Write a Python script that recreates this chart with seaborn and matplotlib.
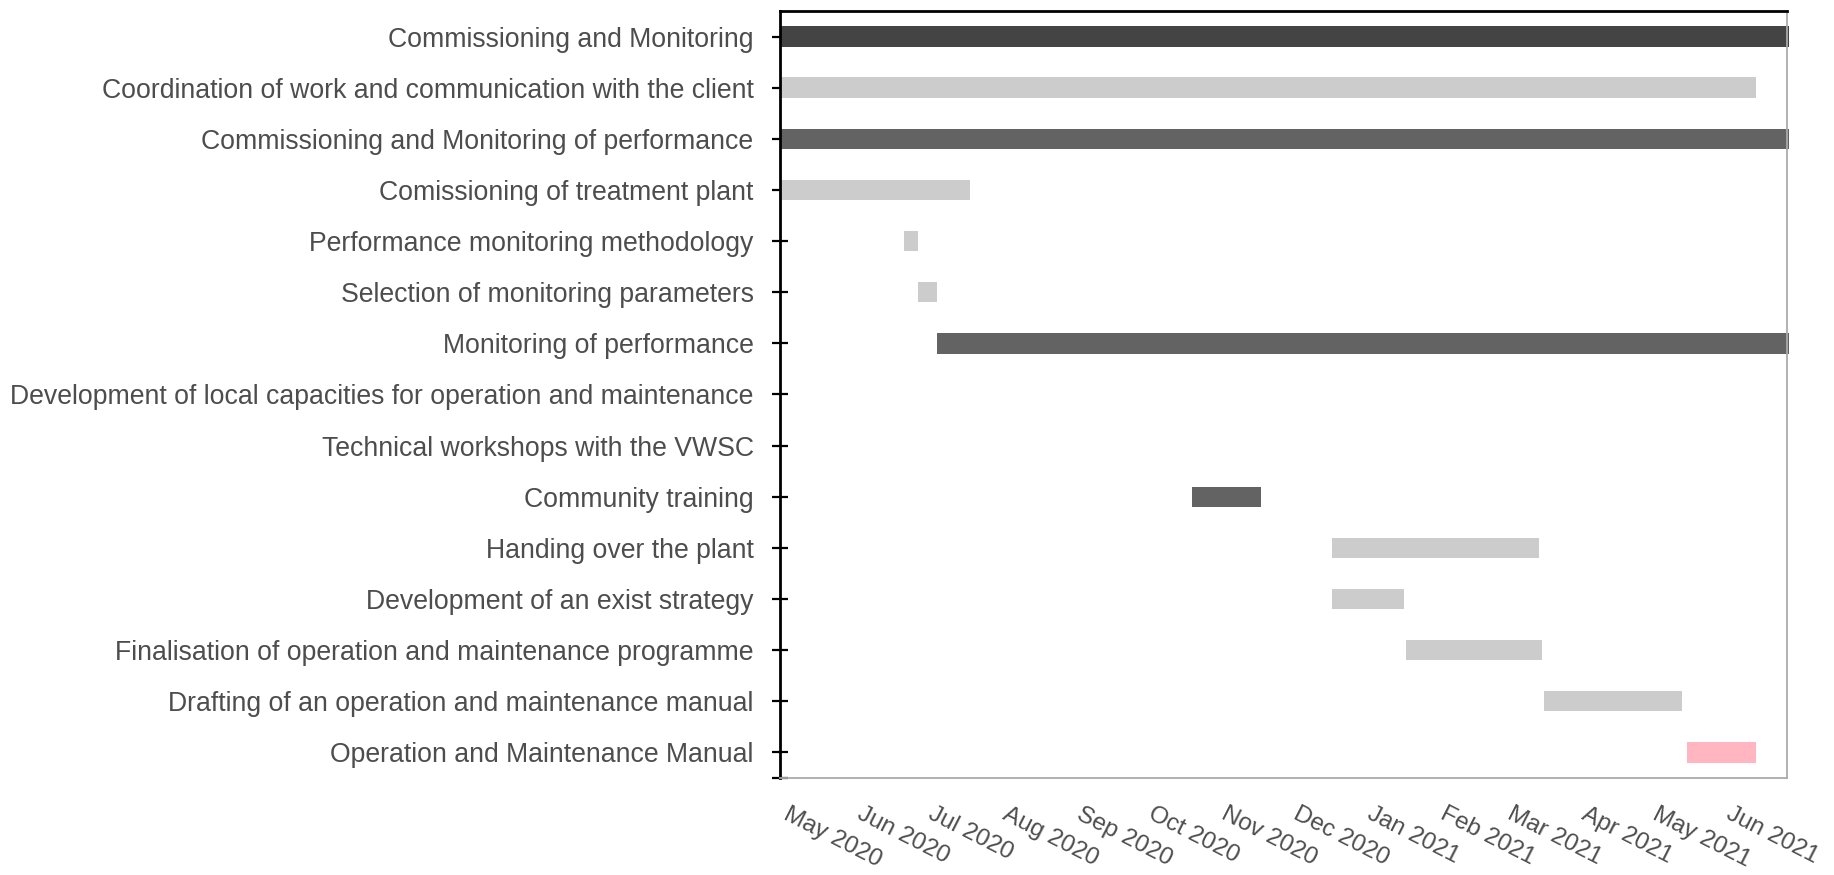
import matplotlib
matplotlib.use("Agg")
import matplotlib.pyplot as plt
import matplotlib.dates as mdates
import pandas as pd
import seaborn as sns

# Project schedule
tasks = [
    "Commissioning and Monitoring",
    "Coordination of work and communication with the client",
    "Commissioning and Monitoring of performance",
    "Comissioning of treatment plant",
    "Performance monitoring methodology",
    "Selection of monitoring parameters",
    "Monitoring of performance",
    "Development of local capacities for operation and maintenance",
    "Technical workshops with the VWSC",
    "Community training",
    "Handing over the plant",
    "Development of an exist strategy",
    "Finalisation of operation and maintenance programme",
    "Drafting of an operation and maintenance manual",
    "Operation and Maintenance Manual",
]
starts = [
    "2020-05-01", "2020-05-01", "2020-05-01", "2020-05-01", "2020-06-22",
    "2020-06-28", "2020-07-06", None, None, "2020-10-21",
    "2020-12-19", "2020-12-19", "2021-01-19", "2021-03-18", "2021-05-17",
]
ends = [
    "2021-06-29", "2021-06-15", "2021-06-29", "2020-07-20", "2020-06-28",
    "2020-07-06", "2021-06-29", None, None, "2020-11-19",
    "2021-03-16", "2021-01-18", "2021-03-17", "2021-05-15", "2021-06-15",
]
shades = [
    "#444444", "#cccccc", "#636363", "#cccccc", "#cccccc",
    "#cccccc", "#636363", "#cccccc", "#cccccc", "#636363",
    "#cccccc", "#cccccc", "#cccccc", "#cccccc", "#ffb6c1",
]
month_ticks = pd.date_range("2020-05-01", "2021-06-01", freq="MS")
x_range = ("2020-05-01", "2021-06-28")

sns.set_theme(style="white")
plt.rcParams["font.family"] = ["Liberation Sans", "DejaVu Sans"]
text_color = "#4d4d4d"

schedule = pd.DataFrame({
    "task": tasks,
    "start": pd.to_datetime(starts),
    "end": pd.to_datetime(ends),
    "color": shades,
})

fig = plt.figure(figsize=(18.34, 8.75), dpi=100)
ax = fig.add_axes([0.4253, 0.1109, 0.5491, 0.8765])

for i, row in schedule.iterrows():
    if pd.isna(row.start):
        continue
    s = mdates.date2num(row.start)
    e = mdates.date2num(row.end)
    ax.barh(i, e - s, left=s, height=0.4, color=row.color,
            linewidth=0, clip_on=False)

ax.set_xlim(mdates.date2num(pd.Timestamp(x_range[0])),
            mdates.date2num(pd.Timestamp(x_range[1])))
ax.set_ylim(len(tasks) - 0.5, -0.5)

ax.set_yticks(range(len(tasks)))
ax.set_yticklabels(tasks, fontsize=19.2, color=text_color)
ax.set_yticks([len(tasks) - 0.5], minor=True)
ax.tick_params(axis="y", which="both", direction="inout", length=12,
               width=1.6, color="black", left=True, pad=13)

ax.set_xticks(mdates.date2num(month_ticks))
ax.set_xticklabels([d.strftime("%b %Y") for d in month_ticks],
                   fontsize=17.5, color=text_color, rotation=-27,
                   ha="left", va="top")
ax.tick_params(axis="x", length=0, pad=18)

for side in ("left", "top"):
    ax.spines[side].set_color("black")
    ax.spines[side].set_linewidth(2)
for side in ("right", "bottom"):
    ax.spines[side].set_color("#aaaaaa")
    ax.spines[side].set_linewidth(1.3)

ax.grid(False)
fig.savefig("out.png", dpi=100, facecolor="white")
